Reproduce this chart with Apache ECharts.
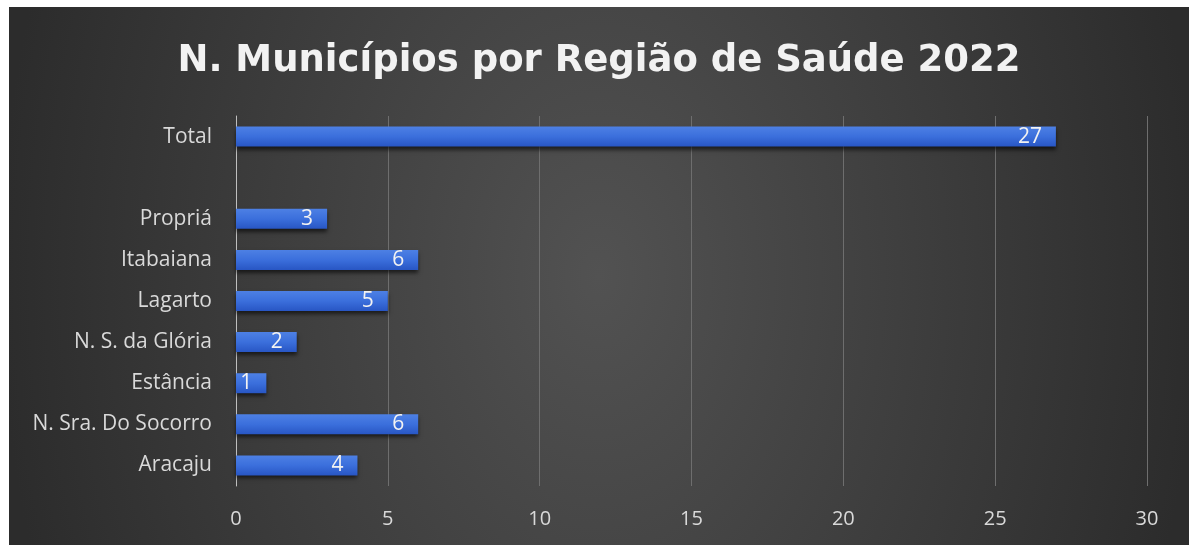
<!DOCTYPE html>
<html>
<head>
<meta charset="utf-8">
<script src="https://cdn.jsdelivr.net/npm/echarts@6/dist/echarts.min.js"></script>
<style>
  html, body { margin: 0; padding: 0; background: #fff; }
  #chart {
    position: absolute; left: 9px; top: 7px; width: 1180px; height: 538px;
    background: radial-gradient(ellipse 600px 860px at 50% 50%, #525252 0%, #2c2c2c 100%);
  }
</style>
</head>
<body>
<div id="chart"></div>
<script>
// categories bottom -> top (the empty one is the gap under Total)
const regioes = ['Aracaju', 'N. Sra. Do Socorro', 'Estância', 'N. S. da Glória', 'Lagarto', 'Itabaiana', 'Propriá', '', 'Total'];
const municipios = [4, 6, 1, 2, 5, 6, 3, null, 27];
const xTicks = [0, 5, 10, 15, 20, 25, 30];

const myChart = echarts.init(document.getElementById('chart'));

const option = {
  backgroundColor: 'transparent',
  title: {
    text: 'N. Municípios por Região de Saúde 2022',
    left: 'center',
    top: 31,
    textStyle: {
      color: '#f2f2f2',
      fontFamily: 'DejaVu Sans',
      fontWeight: 'bold',
      fontSize: 37,
    },
  },
  grid: { left: 227, right: 42, top: 109, bottom: 59, containLabel: false },
  xAxis: {
    type: 'value',
    min: xTicks[0],
    max: xTicks[xTicks.length - 1],
    interval: 5,
    axisLine: { show: false },
    axisTick: { show: false },
    axisLabel: { color: '#d9d9d9', fontFamily: 'Open Sans', fontSize: 20, margin: 23 },
    splitLine: { lineStyle: { color: '#6e6e6e', width: 1 } },
  },
  yAxis: {
    type: 'category',
    data: regioes,
    axisLine: { lineStyle: { color: '#bfbfbf', width: 1 } },
    axisTick: { show: false },
    axisLabel: { color: '#d9d9d9', fontFamily: 'Open Sans', fontSize: 21, margin: 24 },
  },
  series: [
    {
      type: 'bar',
      data: municipios,
      barWidth: 20,
      itemStyle: {
        color: {
          type: 'linear', x: 0, y: 0, x2: 0, y2: 1,
          colorStops: [
            { offset: 0, color: '#4d80e4' },
            { offset: 0.5, color: '#3b6fdc' },
            { offset: 1, color: '#2856c4' },
          ],
        },
        shadowColor: 'rgba(0,0,0,0.6)',
        shadowBlur: 4,
        shadowOffsetY: 3,
      },
      label: {
        show: true,
        position: 'insideRight',
        distance: 14,
        color: '#f2f2f2',
        fontFamily: 'Open Sans',
        fontSize: 21,
      },
    },
  ],
};
myChart.setOption(option);
</script>
</body>
</html>
